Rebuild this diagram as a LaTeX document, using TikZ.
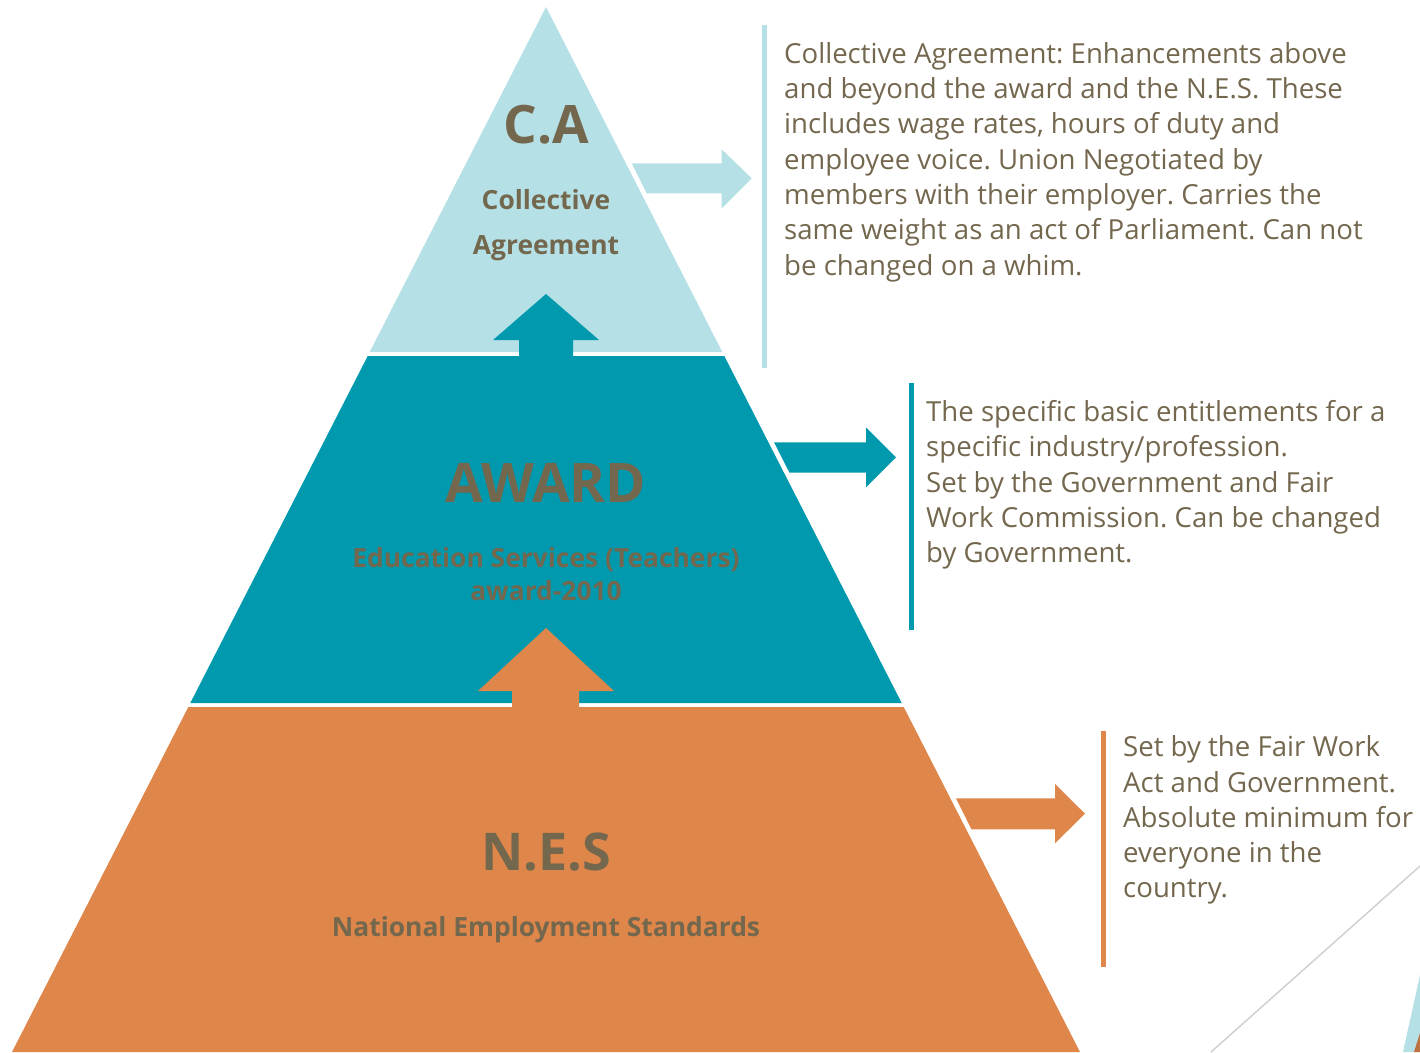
\documentclass[tikz,border=0pt]{standalone}
\usepackage{fontspec}
\setmainfont{Open Sans}
\usepackage{tikz}
\usetikzlibrary{positioning}
\frenchspacing
\definecolor{caBlue}{RGB}{181,225,230}
\definecolor{awardTeal}{RGB}{0,153,173}
\definecolor{nesOrange}{RGB}{223,134,74}
\definecolor{txtBrown}{RGB}{115,103,78}
\tikzset{
title big/.style={anchor=base,inner sep=0,text=txtBrown,font=\fontsize{53}{60}\selectfont\bfseries},
title small/.style={anchor=base,inner sep=0,text=txtBrown,font=\fontsize{26.4}{32}\selectfont\bfseries},
side text/.style={anchor=base west,inner sep=0,align=left,text=txtBrown,font=\fontsize{27.6}{35.3}\selectfont},
side bar/.style={line width=5pt},
}
\begin{document}
\begin{tikzpicture}[x=1pt,y=-1pt]
    \useasboundingbox (0,0) rectangle (1420,1052);
    % pyramid bands
    \fill[caBlue] (546,7) -- (722.3,352) -- (369.7,352) -- cycle;
    \fill[awardTeal] (724.3,356) -- (901.7,703) -- (190.3,703) -- (367.7,356) -- cycle;
    \fill[nesOrange] (903.7,707) -- (1080,1052) -- (12,1052) -- (188.3,707) -- cycle;
    % arrows going up
    \fill[awardTeal] (546,294) -- (599,340) -- (573,340) -- (573,358) -- (519,358) -- (519,340) -- (493,340) -- cycle;
    \fill[nesOrange] (546,628) -- (614,691) -- (579,691) -- (579,708) -- (512,708) -- (512,691) -- (478,691) -- cycle;
    % arrows going right
    \fill[caBlue] (631.7,163.3) -- (721.7,163.3) -- (721.7,149.3) -- (751.7,178.3) -- (721.7,208.3) -- (721.7,193.3) -- (646.7,193.3) -- cycle;
    \fill[awardTeal] (774,442.3) -- (866,442.3) -- (866,427.3) -- (896,457.3) -- (866,487.3) -- (866,472.7) -- (789.5,472.7) -- cycle;
    \fill[nesOrange] (956,798.3) -- (1055,798.3) -- (1055,784) -- (1085,813.7) -- (1055,843.3) -- (1055,829.3) -- (971.5,829.3) -- cycle;
    % bars
    \draw[side bar,caBlue] (764,25) -- (764,368);
    \draw[side bar,awardTeal] (911,383) -- (911,630);
    \draw[side bar,nesOrange] (1103,731) -- (1103,967);
    % corner
    \draw[black!18,line width=1.5pt] (1211,1052) -- (1420,866);
    \fill[caBlue] (1403,1052) -- (1420,975) -- (1420,1052) -- cycle;
    \fill[nesOrange!85!black] (1414,1052) -- (1420,1033) -- (1420,1052) -- cycle;
    % titles
    \node[title big] (caTitle) at (546,143) {C.A};
    \node[title small] (caName1) at (546,209) {Collective};
    \node[title small] (caName2) at (546,254) {Agreement};
    \node[title big,font=\fontsize{54.6}{60}\selectfont\bfseries] (awardTitle) at (546,502) {AWARD};
    \node[title small] (awardName1) at (546,567) {Education Services (Teachers)};
    \node[title small] (awardName2) at (546,600) {award-2010};
    \node[title big,font=\fontsize{52}{60}\selectfont\bfseries] (nesTitle) at (546,870) {N.E.S};
    \node[title small] (nesName) at (546,936) {National Employment Standards};
    % notes (anchored at last baseline)
    \node[side text] (caNote) at (784,275.1) {Collective Agreement: Enhancements above\\and beyond the award and the N.E.S. These\\includes wage rates, hours of duty and\\employee voice. Union Negotiated by\\members with their employer. Carries the\\same weight as an act of Parliament. Can not\\be changed on a whim.};
    \node[side text] (awardNote) at (926,562.7) {The specific basic entitlements for a\\specific industry/profession.\\Set by the Government and Fair\\Work Commission. Can be changed\\by Government.};
    \node[side text] (nesNote) at (1123,897.9) {Set by the Fair Work\\Act and Government.\\Absolute minimum for\\everyone in the\\country.};
\end{tikzpicture}
\end{document}
